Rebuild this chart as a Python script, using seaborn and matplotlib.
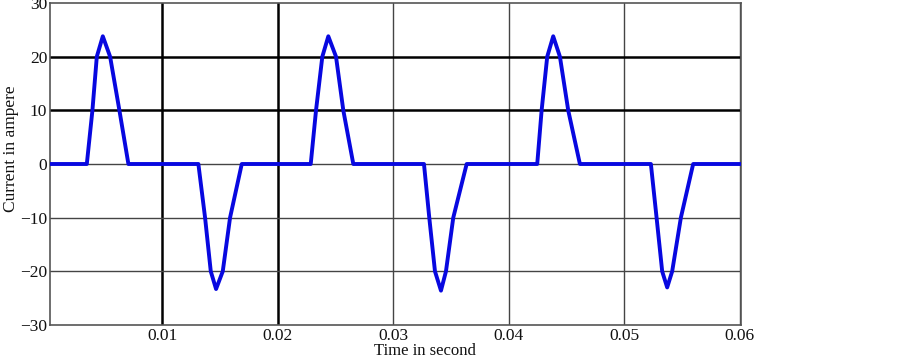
import matplotlib
matplotlib.use("Agg")
import matplotlib.pyplot as plt
import seaborn as sns
import pandas as pd

# Waveform breakpoints (time in s, current in A)
time_s = [
    0.0003, 0.003486, 0.003971, 0.004351, 0.004870, 0.005502, 0.006306, 0.007085,
    0.013140, 0.013720, 0.014213, 0.014671, 0.015251, 0.015882, 0.016895,
    0.022864, 0.023322, 0.023867, 0.024386, 0.025052, 0.025683, 0.026548,
    0.032664, 0.033123, 0.033616, 0.034135, 0.034567, 0.035199, 0.036358,
    0.042465, 0.042846, 0.043330, 0.043849, 0.044429, 0.045147, 0.046159,
    0.052301, 0.052794, 0.053279, 0.053711, 0.054144, 0.054896, 0.055960,
    0.0601,
]
current_a = [
    0.0, 0.0, 10.0, 20.0, 23.8, 20.0, 10.0, 0.0,
    0.0, -10.0, -20.0, -23.3, -20.0, -10.0, 0.0,
    0.0, 10.0, 20.0, 23.8, 20.0, 10.0, 0.0,
    0.0, -10.0, -20.0, -23.6, -20.0, -10.0, 0.0,
    0.0, 10.0, 20.0, 23.8, 20.0, 10.0, 0.0,
    0.0, -10.0, -20.0, -23.0, -20.0, -10.0, 0.0,
    0.0,
]

x_ticks = [0.01, 0.02, 0.03, 0.04, 0.05, 0.06]
x_tick_labels = ["0.01", "0.02", "0.03", "0.04", "0.05", "0.06"]
y_ticks = [-30, -20, -10, 0, 10, 20, 30]
y_tick_labels = ["\u221230", "\u221220", "\u221210", "0", "10", "20", "30"]

df = pd.DataFrame({"t": time_s, "i": current_a})

sns.set_theme(style="white")
plt.rcParams["font.family"] = ["Liberation Serif", "DejaVu Serif"]
plt.rcParams["font.size"] = 12.5

fig = plt.figure(figsize=(9.03, 3.56), dpi=100)
ax = fig.add_axes([50 / 903, 1 - 325 / 356, 691 / 903, 322 / 356])

# grid lines
thick_x = {0.01, 0.02}
for xv in x_ticks:
    if xv in thick_x:
        ax.axvline(xv, color="black", lw=1.8, zorder=1)
    else:
        ax.axvline(xv, color="#444444", lw=1.0, zorder=1)
thick_y = {10, 20}
for yv in y_ticks:
    if yv in thick_y:
        ax.axhline(yv, color="black", lw=1.8, zorder=1)
    elif yv in (-30, 30):
        continue
    else:
        ax.axhline(yv, color="#444444", lw=1.0, zorder=1)

sns.lineplot(data=df, x="t", y="i", ax=ax, color="#0808e0", lw=2.8,
             estimator=None, sort=False, zorder=3)

ax.set_xlim(0.0003, 0.0601)
ax.set_ylim(-30, 30)
ax.set_xticks(x_ticks)
ax.set_xticklabels(x_tick_labels, fontsize=12.5, color="#111111")
ax.set_yticks(y_ticks)
ax.set_yticklabels(y_tick_labels, fontsize=12.5, color="#111111")
ax.tick_params(axis="x", length=0, pad=2)
ax.tick_params(axis="y", length=0, pad=2)

for s in ax.spines.values():
    s.set_color("#555555")
    s.set_linewidth(1.2)
    s.set_visible(True)

ax.set_xlabel("Time in second", fontsize=12, color="#111111")
ax.xaxis.set_label_coords(0.543, -0.056)
ax.set_ylabel("Current in ampere", fontsize=12.5, color="#111111")
ax.yaxis.set_label_coords(-0.045, 0.547)

fig.savefig("out.png", dpi=100)
